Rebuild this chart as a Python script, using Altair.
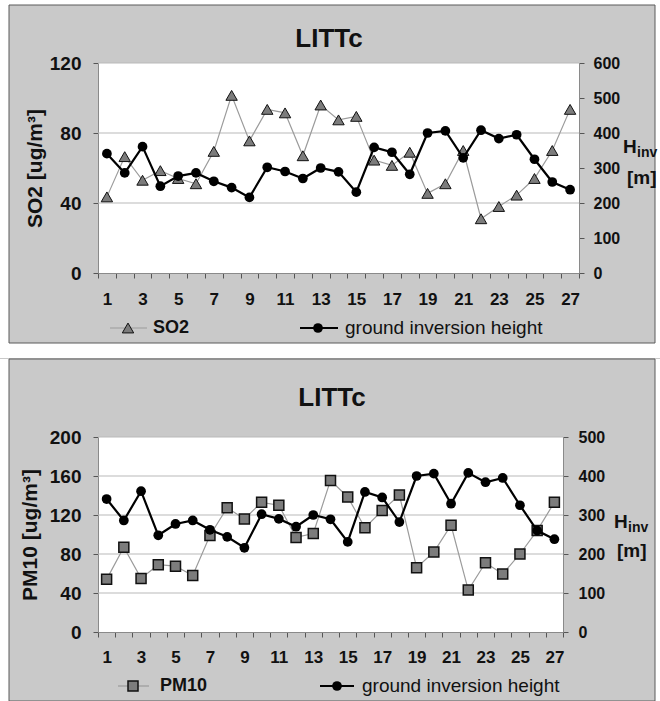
import altair as alt
import pandas as pd

# ---------------- data ----------------
days = list(range(1, 28))
so2 = [43.5, 66.5, 53, 58.5, 54, 51, 69.5, 101.5, 75.5, 93.5, 91.5, 67, 96, 87.5, 89.5,
       64.5, 61.5, 69, 45.5, 51, 70, 31, 38, 44.5, 54, 70, 93.5]
pm10 = [54, 87, 55, 69, 67.5, 58, 99, 127.5, 116, 133, 130, 97, 101, 155.5, 138.5,
        107, 124.5, 140.5, 66, 82, 109.5, 43, 71, 59.5, 80, 104, 133]
hinv = [341, 286, 361, 248, 277, 286, 262, 244, 216, 302, 290, 270, 300, 289, 231,
        359, 345, 282, 400, 406, 329, 408, 384, 395, 325, 260, 238]

so2_ticks = [0, 40, 80, 120]
pm10_ticks = [0, 40, 80, 120, 160, 200]
hinv_ticks_top = [0, 100, 200, 300, 400, 500, 600]
hinv_ticks_bot = [0, 100, 200, 300, 400, 500]

station = "LITTc"
hinv_name = "ground inversion height"

FONT = "Liberation Sans"
BG = "#c9c9c9"
INK = "#111111"
CONC_LINE = "#9b9b9b"
MARK_FILL = "#7c7c7c"


def one():
    return alt.Chart(pd.DataFrame({"k": [0]}))


def txt(s, x, y, size, weight="bold", align="left", baseline="alphabetic"):
    return one().mark_text(text=s, font=FONT, fontSize=size, fontWeight=weight,
                           align=align, baseline=baseline, color=INK).encode(
        x=alt.value(x), y=alt.value(y))


def white_rect(x0, x1, y0, y1):
    return one().mark_rect(fill="white", strokeWidth=0).encode(
        x=alt.value(x0), x2=alt.value(x1), y=alt.value(y0), y2=alt.value(y1))


def panel(conc, conc_name, ytitle, shape, msize, mstroke, conc_ticks, hticks, W, H, L):
    df = pd.DataFrame({"day": days, "conc": conc, "hinv": hinv})
    xs = alt.Scale(type="band", paddingInner=0, paddingOuter=0)
    x_ax = alt.Axis(
        title=None, labelAngle=0,
        labelExpr="datum.value % 2 == 1 ? datum.label : ''",
        labelFont=FONT, labelFontWeight="bold", labelFontSize=17, labelColor=INK,
        labelPadding=L["xlabpad"], tickBand="extent", tickSize=5, tickColor="#555555",
        domainColor="#8a8a8a", grid=False)
    x_enc = alt.X("day:O", scale=xs, axis=x_ax)
    yl = alt.Scale(domain=[0, conc_ticks[-1]], nice=False)
    yr = alt.Scale(domain=[0, hticks[-1]], nice=False)

    left_axis = alt.Axis(
        orient="left", values=conc_ticks, title=ytitle, titleFont=FONT,
        titleFontWeight="bold", titleFontSize=21, titleColor=INK,
        titlePadding=L["ytpad"], labelFont=FONT, labelFontWeight="bold",
        labelFontSize=19, labelColor=INK, labelPadding=12, tickSize=5,
        tickColor="#555555", domainColor="#8a8a8a", grid=False)
    right_axis = alt.Axis(
        orient="right", values=hticks, title=None, labelFont=FONT,
        labelFontWeight="bold", labelFontSize=16, labelColor=INK,
        labelPadding=L["rlabpad"], tickSize=5, tickColor="#555555",
        domainColor="#8a8a8a", grid=False)
    yl_enc = alt.Y("conc:Q", scale=yl, axis=left_axis)
    yr_enc = alt.Y("hinv:Q", scale=yr, axis=right_axis)

    bx = L["box"]
    fr = L["frame"]  # outer white frame: left, right, top, bottom
    deco_bg = [
        white_rect(fr[0], bx[0], fr[2], fr[3]),          # left margin
        white_rect(bx[1], fr[1], fr[2], fr[3]),          # right margin
        white_rect(fr[0], fr[1], fr[2], bx[2]),          # top margin
        white_rect(fr[0], fr[1], bx[3], fr[3]),          # gap below
        one().mark_rect(filled=False, stroke="#5a5a5a", strokeWidth=1).encode(
            x=alt.value(bx[0]), x2=alt.value(bx[1]), y=alt.value(bx[2]), y2=alt.value(bx[3])),
    ]
    grid = alt.Chart(pd.DataFrame({"conc": conc_ticks[1:]})).mark_rule(
        color="#b9b9b9", strokeWidth=1).encode(y=yl_enc)

    conc_line = alt.Chart(df).mark_line(color=CONC_LINE, strokeWidth=1.2).encode(
        x=x_enc, y=yl_enc)
    conc_pts = alt.Chart(df).mark_point(
        shape=shape, filled=True, fill=MARK_FILL, stroke=INK, strokeWidth=mstroke,
        size=msize, opacity=1).encode(x=x_enc, y=yl_enc)

    ly = L["leg_y"]
    deco = [
        txt(station, L["title_x"], L["title_y"], 26, align="center"),
        one().mark_rule(color=CONC_LINE, strokeWidth=1.2).encode(
            x=alt.value(L["leg1"][0]), x2=alt.value(L["leg1"][1]), y=alt.value(ly)),
        one().mark_point(shape=shape, filled=True, fill=MARK_FILL, stroke=INK,
                         strokeWidth=mstroke, size=msize, opacity=1).encode(
            x=alt.value(L["leg1"][2]), y=alt.value(ly)),
        txt(conc_name, L["leg1"][3], ly, 18, baseline="middle"),
        one().mark_rule(color="black", strokeWidth=2.2).encode(
            x=alt.value(L["leg2"][0]), x2=alt.value(L["leg2"][1]), y=alt.value(ly)),
        one().mark_point(shape="circle", filled=True, fill="black", size=95,
                         opacity=1).encode(x=alt.value(L["leg2"][2]), y=alt.value(ly)),
        txt(hinv_name, L["leg2"][3], ly, 19, weight="normal", baseline="middle"),
        txt("H", L["H"][0], L["H"][1], 19),
        txt("inv", L["H"][0] + 14, L["H"][1] + 4, 14),
        txt("[m]", L["M"][0], L["M"][1], 19),
    ]

    left = alt.layer(*deco_bg, grid, conc_line, conc_pts, *deco)

    h_line = alt.Chart(df).mark_line(color="black", strokeWidth=2.2).encode(
        x=x_enc, y=yr_enc)
    h_pts = alt.Chart(df).mark_point(shape="circle", filled=True, fill="black",
                                     size=95, opacity=1).encode(x=x_enc, y=yr_enc)
    right = alt.layer(h_line, h_pts)

    return alt.layer(left, right).resolve_scale(y="independent").properties(
        width=W, height=H)


top = panel(so2, "SO2", "SO2 [ug/m³]", "triangle-up", 130, 1, so2_ticks, hinv_ticks_top,
            481, 210,
            dict(box=(-89, 557, -58, 280), frame=(-98, 562, -63, 295),
                 xlabpad=13, ytpad=4, rlabpad=9,
                 title_x=231, title_y=-16, leg_y=265,
                 leg1=(12, 49, 30, 55), leg2=(202, 240, 220, 247),
                 H=(525, 90), M=(529, 121)))

bottom = panel(pm10, "PM10", "PM10 [ug/m³]", "square", 100, 1.5, pm10_ticks, hinv_ticks_bot,
               465, 195,
               dict(box=(-89, 557, -78, 264), frame=(-98, 562, -78, 265),
                    xlabpad=12, ytpad=9, rlabpad=10,
                    title_x=234, title_y=-31, leg_y=249,
                    leg1=(20, 51, 35, 62), leg2=(222, 256, 239, 264),
                    H=(516, 91), M=(519, 120)))

chart = alt.vconcat(top, bottom, spacing=0).properties(
    padding=0
).configure(background=BG).configure_view(fill="white", strokeWidth=0)

chart.save("out.html", embed_options={"renderer": "svg", "actions": False})
